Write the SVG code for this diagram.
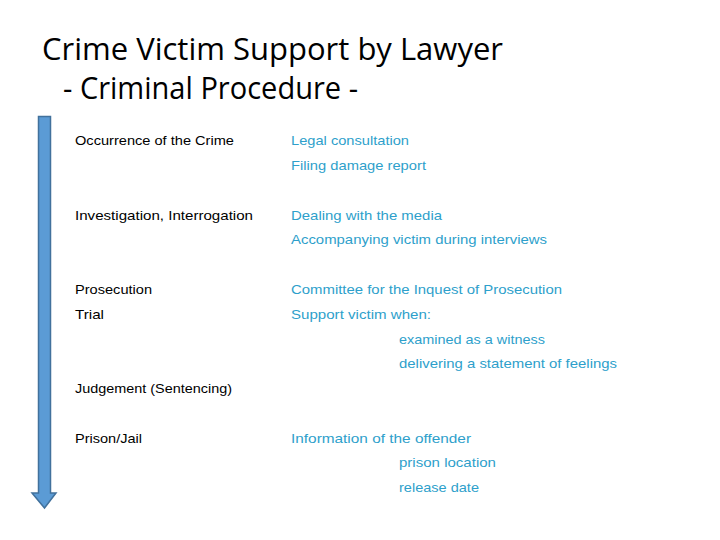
<svg xmlns="http://www.w3.org/2000/svg" width="720" height="540" viewBox="0 0 720 540">
<style>
.t{font-family:"Open Sans","Liberation Sans",sans-serif;font-size:31px;fill:#000}
.k{font-family:"Liberation Sans",Arial,sans-serif;font-size:13.5px;fill:#000}
.b{font-family:"Liberation Sans",Arial,sans-serif;font-size:13.5px;fill:#2E9FCB}
</style>
<rect width="720" height="540" fill="#fff"/>
<g id="title">
<text class="t" x="42" y="60" textLength="461" lengthAdjust="spacingAndGlyphs">Crime Victim Support by Lawyer</text>
<text class="t" x="63" y="99" textLength="295" lengthAdjust="spacingAndGlyphs">- Criminal Procedure -</text>
</g>
<g id="connectors">
<path d="M38.5 116.5 H50.5 V493 H56 L44.5 508 L32 493 H38.5 Z" fill="#5B9BD5" stroke="#41719C" stroke-width="1.5"/>
</g>
<g id="stages">
<text class="k" x="75" y="145" textLength="159" lengthAdjust="spacingAndGlyphs">Occurrence of the Crime</text>
<text class="k" x="75" y="220" textLength="178" lengthAdjust="spacingAndGlyphs">Investigation, Interrogation</text>
<text class="k" x="75" y="294" textLength="77" lengthAdjust="spacingAndGlyphs">Prosecution</text>
<text class="k" x="75" y="319" textLength="29" lengthAdjust="spacingAndGlyphs">Trial</text>
<text class="k" x="75" y="393" textLength="157" lengthAdjust="spacingAndGlyphs">Judgement (Sentencing)</text>
<text class="k" x="75" y="443" textLength="67" lengthAdjust="spacingAndGlyphs">Prison/Jail</text>
</g>
<g id="support">
<text class="b" x="291" y="145" textLength="118" lengthAdjust="spacingAndGlyphs">Legal consultation</text>
<text class="b" x="291" y="170" textLength="135" lengthAdjust="spacingAndGlyphs">Filing damage report</text>
<text class="b" x="291" y="220" textLength="151" lengthAdjust="spacingAndGlyphs">Dealing with the media</text>
<text class="b" x="291" y="244" textLength="256" lengthAdjust="spacingAndGlyphs">Accompanying victim during interviews</text>
<text class="b" x="291" y="294" textLength="271" lengthAdjust="spacingAndGlyphs">Committee for the Inquest of Prosecution</text>
<text class="b" x="291" y="319" textLength="140" lengthAdjust="spacingAndGlyphs">Support victim when:</text>
<text class="b" x="399" y="344" textLength="146" lengthAdjust="spacingAndGlyphs">examined as a witness</text>
<text class="b" x="399" y="368" textLength="218" lengthAdjust="spacingAndGlyphs">delivering a statement of feelings</text>
<text class="b" x="291" y="443" textLength="180" lengthAdjust="spacingAndGlyphs">Information of the offender</text>
<text class="b" x="399" y="467" textLength="97" lengthAdjust="spacingAndGlyphs">prison location</text>
<text class="b" x="399" y="492" textLength="80" lengthAdjust="spacingAndGlyphs">release date</text>
</g>
</svg>
